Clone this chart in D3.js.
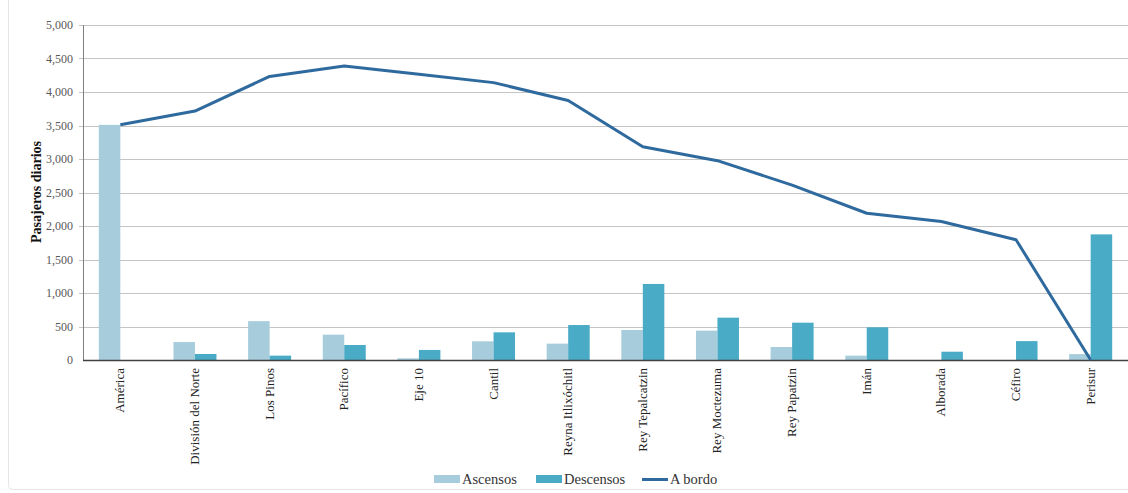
<!DOCTYPE html>
<html>
<head>
<meta charset="utf-8">
<script src="https://cdn.jsdelivr.net/npm/d3@7"></script>
<style>
  html, body { margin: 0; padding: 0; background: #fff; }
  svg { display: block; }
  svg text { font-family: "Liberation Serif", "Times New Roman", "DejaVu Serif", serif; }
</style>
</head>
<body>
<svg id="chart" width="1128" height="493"></svg>
<script>
const categories = ["América", "División del Norte", "Los Pinos", "Pacífico", "Eje 10", "Cantil",
  "Reyna Itlixóchitl", "Rey Tepalcatzin", "Rey Moctezuma", "Rey Papatzin", "Imán", "Alborada", "Céfiro", "Perisur"];
const ascensos  = [3510, 268, 580, 378, 25, 279, 244, 448, 438, 194, 65, 0, 0, 88];
const descensos = [0, 90, 65, 224, 150, 413, 522, 1135, 632, 557, 488, 124, 282, 1875];
const aBordo    = [3510, 3715, 4232, 4388, 4265, 4140, 3872, 3182, 2975, 2610, 2190, 2068, 1795, 0];
const yTicks    = [0, 500, 1000, 1500, 2000, 2500, 3000, 3500, 4000, 4500, 5000];
const seriesNames = ["Ascensos", "Descensos", "A bordo"];

const colors = { asc: "#a7cddc", desc: "#4aabc6", line: "#2f6a9e" };
const svg = d3.select("#chart");
const m = { left: 83, right: 1128, top: 25, bottom: 360 };

// faint frame
svg.append("rect").attr("x", 8.5).attr("y", -6).attr("width", 1140).attr("height", 495.5)
  .attr("rx", 4).attr("fill", "none").attr("stroke", "#e6e6e6");

const x = d3.scaleBand().domain(categories).range([m.left, m.right]).paddingInner(0).paddingOuter(0);
const y = d3.scaleLinear().domain([0, 5000]).range([m.bottom, m.top]);
const barW = 21.5;

// grid
svg.append("g").selectAll("line").data(yTicks.filter(d => d > 0)).join("line")
  .attr("x1", m.left - 4).attr("x2", m.right)
  .attr("y1", d => Math.round(y(d)) + 0.5).attr("y2", d => Math.round(y(d)) + 0.5)
  .attr("stroke", "#c4c4c4").attr("stroke-width", 1);

// y axis labels
const yAxis = d3.axisLeft(y).tickValues(yTicks).tickFormat(d3.format(",")).tickSize(0).tickPadding(10);
const ya = svg.append("g").attr("transform", `translate(${m.left},0)`).call(yAxis);
ya.select(".domain").remove();
ya.attr("font-family", null);
ya.selectAll("text").style("font-size", "12px").attr("fill", "#595959");

// bars
const center = d => x(d) + x.bandwidth() / 2;
svg.append("g").selectAll("rect").data(categories).join("rect")
  .attr("x", (d) => center(d) - barW)
  .attr("y", (d, i) => y(ascensos[i]))
  .attr("width", barW)
  .attr("height", (d, i) => y(0) - y(ascensos[i]))
  .attr("fill", colors.asc);
svg.append("g").selectAll("rect").data(categories).join("rect")
  .attr("x", (d) => center(d))
  .attr("y", (d, i) => y(descensos[i]))
  .attr("width", barW)
  .attr("height", (d, i) => y(0) - y(descensos[i]))
  .attr("fill", colors.desc);

// axes lines
svg.append("line").attr("x1", m.left + 0.5).attr("x2", m.left + 0.5).attr("y1", m.top).attr("y2", m.bottom)
  .attr("stroke", "#7f7f7f").attr("stroke-width", 1);
svg.append("line").attr("x1", m.left).attr("x2", m.right).attr("y1", m.bottom + 0.5).attr("y2", m.bottom + 0.5)
  .attr("stroke", "#404040").attr("stroke-width", 1.5);

// line
const line = d3.line().x((d, i) => center(categories[i])).y(d => y(d));
svg.append("path").datum(aBordo).attr("d", line)
  .attr("fill", "none").attr("stroke", colors.line).attr("stroke-width", 3).attr("stroke-linejoin", "round");

// x labels
svg.append("g").selectAll("text").data(categories).join("text")
  .attr("transform", d => `translate(${center(d) + 4},${m.bottom + 8}) rotate(-90)`)
  .attr("text-anchor", "end")
  .style("font-size", "13px").attr("fill", "#222")
  .text(d => d);

// y title
svg.append("text")
  .attr("transform", `translate(${41},${192}) rotate(-90)`)
  .attr("text-anchor", "middle")
  .style("font-size", "14px").attr("font-weight", "bold").attr("fill", "#111")
  .text("Pasajeros diarios");

// legend
const lg = svg.append("g");
const legendItems = [
  { name: seriesNames[0], x: 434, type: "rect", color: colors.asc },
  { name: seriesNames[1], x: 536, type: "rect", color: colors.desc },
  { name: seriesNames[2], x: 642, type: "line", color: colors.line }
];
legendItems.forEach(it => {
  if (it.type === "rect") {
    lg.append("rect").attr("x", it.x).attr("y", 475).attr("width", 26).attr("height", 8).attr("fill", it.color);
  } else {
    lg.append("line").attr("x1", it.x).attr("x2", it.x + 26).attr("y1", 479.5).attr("y2", 479.5)
      .attr("stroke", it.color).attr("stroke-width", 3);
  }
  lg.append("text").attr("x", it.x + 28).attr("y", 484).style("font-size", "14.5px").attr("fill", "#333").text(it.name);
});
</script>
</body>
</html>
